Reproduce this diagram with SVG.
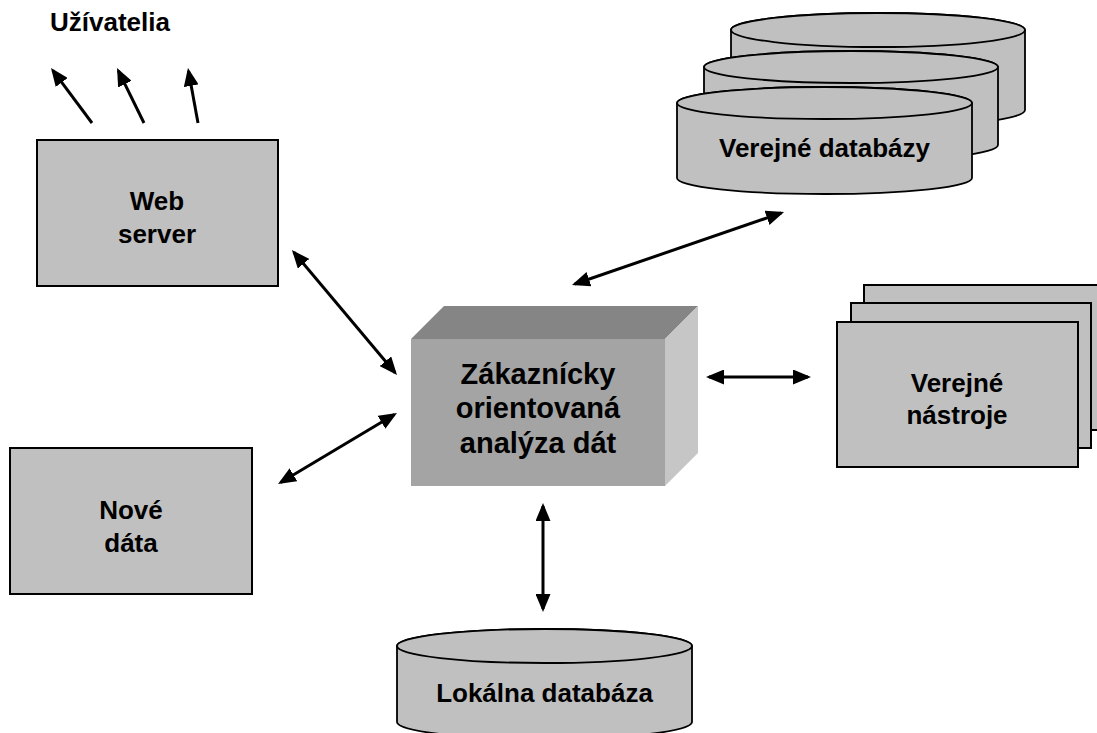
<svg xmlns="http://www.w3.org/2000/svg" width="1097" height="733" viewBox="0 0 1097 733">
  <style>
    .box { fill: #c0c0c0; stroke: #000; stroke-width: 2; }
    .cyl { fill: #c0c0c0; stroke: #000; stroke-width: 1.8; }
    .lbl { font-family: "Liberation Sans", Arial, sans-serif; font-weight: bold; font-size: 26px; fill: #000; text-anchor: middle; }
    .big { font-size: 29px; }
    .link { stroke: #000; stroke-width: 3; fill: none; marker-end: url(#head); }
    .both { marker-start: url(#head); }
  </style>
  <defs>
    <marker id="head" markerUnits="userSpaceOnUse" viewBox="0 0 18 15" markerWidth="18" markerHeight="15" refX="15" refY="7.5" orient="auto-start-reverse">
      <path d="M0,0 L18,7.5 L0,15 z" fill="#000"/>
    </marker>
  </defs>
  <rect width="1097" height="733" fill="#fff"/>

  <!-- users label -->
  <g id="users">
    <text class="lbl" x="50" y="31" style="text-anchor:start">Užívatelia</text>
  </g>

  <!-- web server -->
  <g id="web-server">
    <rect class="box" x="37" y="140" width="241" height="146"/>
    <text class="lbl" x="157" y="210">Web</text>
    <text class="lbl" x="157" y="243">server</text>
  </g>

  <!-- new data -->
  <g id="new-data">
    <rect class="box" x="10" y="448" width="242" height="146"/>
    <text class="lbl" x="131" y="519">Nové</text>
    <text class="lbl" x="131" y="552">dáta</text>
  </g>

  <!-- public databases: three stacked cylinders -->
  <g id="public-databases">
    <path class="cyl" d="M731,30 L731,110 A147,17 0 0 0 1025,110 L1025,30 A147,17 0 0 0 731,30 z"/>
    <ellipse class="cyl" cx="878" cy="30" rx="147" ry="17"/>
    <path class="cyl" d="M704,67 L704,145 A147,16 0 0 0 998,145 L998,67 A147,16 0 0 0 704,67 z"/>
    <ellipse class="cyl" cx="851" cy="67" rx="147" ry="16"/>
    <path class="cyl" d="M677,103 L677,178 A147.5,16 0 0 0 972,178 L972,103 A147.5,16 0 0 0 677,103 z"/>
    <ellipse class="cyl" cx="824.5" cy="103" rx="147.5" ry="16"/>
    <text class="lbl" x="824.5" y="157">Verejné databázy</text>
  </g>

  <!-- central analysis block -->
  <g id="analysis">
    <polygon points="411,339 444,306 698,306 665,339" fill="#858585"/>
    <polygon points="665,339 698,306 698,453 665,486" fill="#c6c6c6"/>
    <rect x="411" y="339" width="254" height="147" fill="#a4a4a4"/>
    <text class="lbl big" x="538" y="384">Zákaznícky</text>
    <text class="lbl big" x="538" y="418">orientovaná</text>
    <text class="lbl big" x="538" y="453">analýza dát</text>
  </g>

  <!-- public tools: three stacked sheets -->
  <g id="public-tools">
    <rect class="box" x="864" y="285" width="240" height="145"/>
    <rect class="box" x="851" y="303" width="240" height="145"/>
    <rect class="box" x="837" y="322" width="241" height="145"/>
    <text class="lbl" x="957" y="392">Verejné</text>
    <text class="lbl" x="957" y="424">nástroje</text>
  </g>

  <!-- local database -->
  <g id="local-database">
    <path class="cyl" d="M397,646 L397,722 A147.5,17 0 0 0 692,722 L692,646 A147.5,17 0 0 0 397,646 z"/>
    <ellipse class="cyl" cx="544.5" cy="646" rx="147.5" ry="17"/>
    <text class="lbl" x="544.5" y="702">Lokálna databáza</text>
  </g>

  <!-- connectors -->
  <g id="connectors">
    <line class="link" x1="92" y1="123" x2="52.8" y2="70.4"/>
    <line class="link" x1="144" y1="123" x2="118.3" y2="70.7"/>
    <line class="link" x1="198" y1="123" x2="188.5" y2="71"/>
    <line class="link both" x1="293.9" y1="252.3" x2="395.1" y2="372.7"/>
    <line class="link both" x1="574.8" y1="284" x2="781.2" y2="213"/>
    <line class="link both" x1="709" y1="377" x2="808" y2="377"/>
    <line class="link both" x1="543" y1="506" x2="543" y2="609"/>
    <line class="link both" x1="280.6" y1="482.5" x2="394.4" y2="414.5"/>
  </g>
</svg>
